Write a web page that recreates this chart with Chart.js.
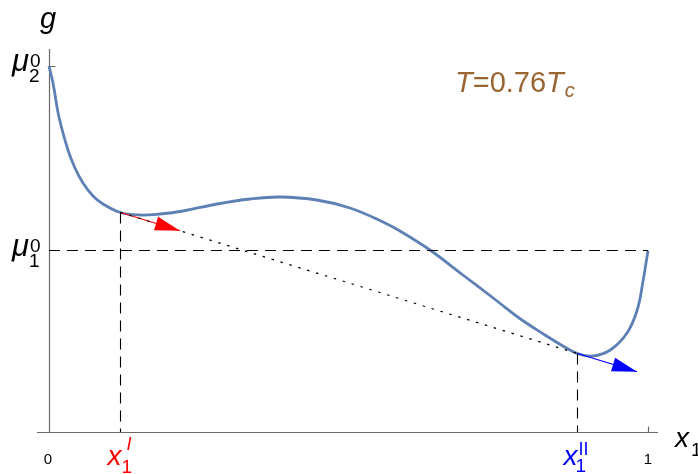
<!DOCTYPE html>
<html>
<head>
<meta charset="utf-8">
<script src="https://cdn.jsdelivr.net/npm/chart.js@4/dist/chart.umd.min.js"></script>
<style>
  body { margin: 0; background: #fff; }
  canvas { display: block; }
</style>
</head>
<body>
<canvas id="grafico" width="698" height="474"></canvas>
<script>
// g(x1) curve
const curveX = [0, 0.0067, 0.0167, 0.0317, 0.0434, 0.0568, 0.0735, 0.0902, 0.1194, 0.1519,
                0.1853, 0.2237, 0.2805, 0.3356, 0.3856, 0.4474, 0.5025, 0.5576, 0.586, 0.636,
                0.691, 0.748, 0.786, 0.828, 0.858, 0.8823, 0.908, 0.937, 0.965, 0.982, 0.992, 1.0];
const curveG = [3.66, 3.49, 3.15, 2.82, 2.64, 2.49, 2.36, 2.28, 2.195, 2.17,
                2.18, 2.21, 2.28, 2.33, 2.35, 2.32, 2.24, 2.10, 2.01, 1.82,
                1.57, 1.31, 1.135, 0.97, 0.86, 0.785, 0.76, 0.82, 0.99, 1.22, 1.52, 1.815];

// pure component values (tick labels on g axis)
const mu2 = 3.66;
const mu1 = 1.815;

// coexisting compositions and tangent points
const xI = 0.1194, gI = 2.195;
const xII = 0.8823, gII = 0.785;

// arrow tips along the common tangent
const redTip = [0.2187, 2.012];
const blueTip = [0.9816, 0.602];

const curveColor = 'rgb(94, 129, 181)';
const axisColor = '#6a6a6a';
const dashed = [11, 7];

function pts(xs, ys) {
    return xs.map((x, i) => ({ x: x, y: ys[i] }));
}

// draws something like x_1^I
function writeSubSup(ctx, x, y, base, sub, sup, opt) {
    ctx.fillStyle = opt.color;
    ctx.textAlign = 'left';
    ctx.textBaseline = 'alphabetic';
    ctx.font = opt.baseFont;
    ctx.fillText(base, x, y);
    if (sup) {
        ctx.font = opt.supFont || opt.smallFont;
        ctx.fillText(sup, x + opt.supDx, y + opt.supDy);
    }
    if (sub) {
        ctx.font = opt.smallFont;
        ctx.fillText(sub, x + opt.subDx, y + opt.subDy);
    }
}

const dibujoExtra = {
    id: 'dibujoExtra',
    beforeDatasetsDraw(chart) {
        const ctx = chart.ctx;
        const sx = chart.scales.x, sy = chart.scales.y;
        const x0 = Math.round(sx.getPixelForValue(0)) + 0.5;
        const y0 = Math.round(sy.getPixelForValue(0)) + 0.5;
        ctx.save();
        ctx.strokeStyle = axisColor;
        ctx.lineWidth = 1.2;
        ctx.beginPath();
        // axes
        ctx.moveTo(chart.chartArea.left, y0);
        ctx.lineTo(chart.chartArea.right, y0);
        ctx.moveTo(x0, chart.chartArea.top);
        ctx.lineTo(x0, y0);
        // ticks
        const x1 = Math.round(sx.getPixelForValue(1)) + 0.5;
        ctx.moveTo(x1, y0);
        ctx.lineTo(x1, y0 - 6);
        const ym2 = Math.round(sy.getPixelForValue(mu2)) + 0.5;
        ctx.moveTo(x0, ym2);
        ctx.lineTo(x0 + 6, ym2);
        ctx.stroke();
        ctx.restore();
    },
    afterDatasetsDraw(chart) {
        const ctx = chart.ctx;
        const sx = chart.scales.x, sy = chart.scales.y;
        ctx.save();

        // arrow heads
        chart.data.datasets.forEach((ds, i) => {
            if (!ds.arrow) return;
            const p = chart.getDatasetMeta(i).data;
            const a = p[0], b = p[p.length - 1];
            const ang = Math.atan2(b.y - a.y, b.x - a.x);
            const len = 25, half = 7;
            const bx = b.x - len * Math.cos(ang), by = b.y - len * Math.sin(ang);
            ctx.fillStyle = ds.borderColor;
            ctx.beginPath();
            ctx.moveTo(b.x, b.y);
            ctx.lineTo(bx + half * Math.sin(ang), by - half * Math.cos(ang));
            ctx.lineTo(bx - half * Math.sin(ang), by + half * Math.cos(ang));
            ctx.closePath();
            ctx.fill();
        });

        const italic = '28px "Liberation Sans", Arial, sans-serif';
        const big = 'italic ' + italic;
        const small = '19px "Liberation Sans", Arial, sans-serif';

        // axis names
        ctx.fillStyle = '#000';
        ctx.font = 'italic 29px "Liberation Sans", Arial, sans-serif';
        ctx.fillText('g', 40, 28);
        writeSubSup(ctx, 675, 447, 'x', '1', null,
            { color: '#000', baseFont: big, smallFont: small, subDx: 16, subDy: 9 });

        // g tick labels
        const ym2 = sy.getPixelForValue(mu2);
        const ym1 = sy.getPixelForValue(mu1);
        const muFont = 'italic 31px "Liberation Sans", Arial, sans-serif';
        writeSubSup(ctx, 12, ym2 + 5, 'μ', '2', '0',
            { color: '#000', baseFont: muFont, smallFont: small, supDx: 18, supDy: -4, subDx: 17, subDy: 11 });
        writeSubSup(ctx, 12, ym1 + 5, 'μ', '1', '0',
            { color: '#000', baseFont: muFont, smallFont: small, supDx: 18, supDy: -4, subDx: 17, subDy: 11 });

        // x tick labels
        ctx.fillStyle = '#000';
        ctx.font = '15px "Liberation Sans", Arial, sans-serif';
        ctx.textAlign = 'center';
        ctx.fillText('0', sx.getPixelForValue(0) - 1, 464);
        ctx.fillText('1', sx.getPixelForValue(1), 464);

        // composition labels
        const pI = sx.getPixelForValue(xI);
        const pII = sx.getPixelForValue(xII);
        writeSubSup(ctx, pI - 13, 465, 'x', '1', 'I',
            { color: '#f00', baseFont: big, smallFont: small, supFont: 'italic 18px "Liberation Sans", Arial, sans-serif',
              supDx: 19, supDy: -15, subDx: 14, subDy: 8 });
        writeSubSup(ctx, pII - 14, 465, 'x', '1', 'II',
            { color: '#00f', baseFont: big, smallFont: small, supFont: '18px "Liberation Sans", Arial, sans-serif',
              supDx: 15, supDy: -10, subDx: 12, subDy: 7 });

        // temperature label
        const brown = 'rgb(153, 102, 51)';
        ctx.fillStyle = brown;
        ctx.textAlign = 'left';
        let tx = 455;
        const ty = 92;
        const tf = '29px "Liberation Sans", Arial, sans-serif';
        const parts = [['T', 'italic ' + tf], ['=0.76', tf], ['T', 'italic ' + tf]];
        parts.forEach(([t, f]) => {
            ctx.font = f;
            ctx.fillText(t, tx, ty);
            tx += ctx.measureText(t).width;
        });
        ctx.font = 'italic 20px "Liberation Sans", Arial, sans-serif';
        ctx.fillText('c', tx + 1, ty + 5);

        ctx.restore();
    }
};

new Chart(document.getElementById('grafico'), {
    type: 'line',
    data: {
        datasets: [
            {
                data: pts([0, 1], [mu1, mu1]),
                borderColor: '#000', borderWidth: 1.1, borderDash: dashed
            },
            {
                data: pts([xI, xI], [gI, 0]),
                borderColor: '#000', borderWidth: 1.1, borderDash: dashed
            },
            {
                data: pts([xII, xII], [gII, 0]),
                borderColor: '#000', borderWidth: 1.1, borderDash: dashed
            },
            {
                data: pts([xI, xII], [gI, gII]),
                borderColor: '#000', borderWidth: 1.2, borderDash: [2.5, 6.8]
            },
            {
                data: pts([xI, redTip[0]], [gI, redTip[1]]),
                borderColor: '#f00', borderWidth: 1.2, arrow: true
            },
            {
                data: pts([xII, blueTip[0]], [gII, blueTip[1]]),
                borderColor: '#00f', borderWidth: 1.2, arrow: true
            },
            {
                data: pts(curveX, curveG),
                borderColor: curveColor, borderWidth: 2.8,
                tension: 0.4
            }
        ]
    },
    options: {
        responsive: false,
        animation: false,
        elements: { point: { radius: 0 }, line: { fill: false } },
        layout: { padding: { left: 37, right: 40, top: 49, bottom: 42 } },
        plugins: { legend: { display: false }, tooltip: { enabled: false } },
        scales: {
            x: { type: 'linear', min: -0.02, max: 1.0167, display: false },
            y: { type: 'linear', min: 0, max: 3.83, display: false }
        }
    },
    plugins: [dibujoExtra]
});
</script>
</body>
</html>
